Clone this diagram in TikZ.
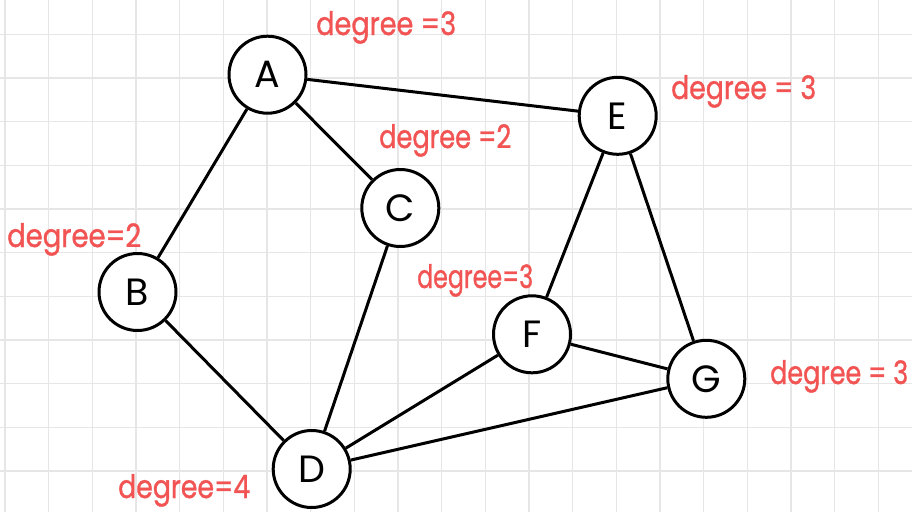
\documentclass[tikz,border=0pt]{standalone}
\usepackage{fontspec}
\setmainfont{Poppins}
\newfontfamily\labfont[FakeBold=1.2]{Poppins}
\definecolor{gridc}{HTML}{E6E6E6}
\definecolor{lab}{HTML}{F25454}
\newcommand{\deglab}[2]{\resizebox{#1pt}{1.15\height}{#2}}
\begin{document}
\begin{tikzpicture}[x=1pt,y=-1pt,
  vtx/.style={circle,draw=black,line width=3pt,minimum size=77pt,inner sep=0pt,fill=white,
    font=\fontsize{38}{38}\selectfont},
  deg/.style={text=lab,font=\labfont\fontsize{28}{28}\selectfont,inner sep=0pt,anchor=base west},
  edge/.style={line width=3pt,draw=black},
  gridline/.style={draw=gridc,line width=1.3pt}]
\useasboundingbox (0,0) rectangle (912,512);
\fill[white] (0,0) rectangle (912,512);
\foreach \i in {0,...,20} \draw[gridline] ({5+43.66*\i},0) -- ({5+43.66*\i},512);
\foreach \i in {0,...,10} \draw[gridline] (0,{34.3+43.66*\i}) -- (912,{34.3+43.66*\i});
% vertices
\node[vtx] (A) at (267.5,74.7) {A};
\node[vtx] (B) at (137.5,292) {B};
\node[vtx] (C) at (400.3,208) {C};
\node[vtx] (D) at (311.7,469) {D};
\node[vtx] (E) at (617.7,115.8) {E};
\node[vtx] (F) at (532,334.3) {F};
\node[vtx] (G) at (706.3,378.8) {G};
% edges
\draw[edge] (A) -- (B);
\draw[edge] (A) -- (C);
\draw[edge] (A) -- (E);
\draw[edge] (B) -- (D);
\draw[edge] (C) -- (D);
\draw[edge] (D) -- (F);
\draw[edge] (D) -- (G);
\draw[edge] (E) -- (F);
\draw[edge] (E) -- (G);
\draw[edge] (F) -- (G);
% degree labels
\node[deg] (lA) at (316,35) {\deglab{140}{degree =3}};
\node[deg] (lC) at (379,148) {\deglab{132}{degree =2}};
\node[deg] (lE) at (671,99) {\deglab{145}{degree = 3}};
\node[deg] (lB) at (7,247) {\deglab{134}{degree=2}};
\node[deg] (lD) at (118,498) {\deglab{132}{degree=4}};
\node[deg] (lF) at (417,288) {\deglab{116}{degree=3}};
\node[deg] (lG) at (770,384) {\deglab{138}{degree = 3}};
\end{tikzpicture}
\end{document}
